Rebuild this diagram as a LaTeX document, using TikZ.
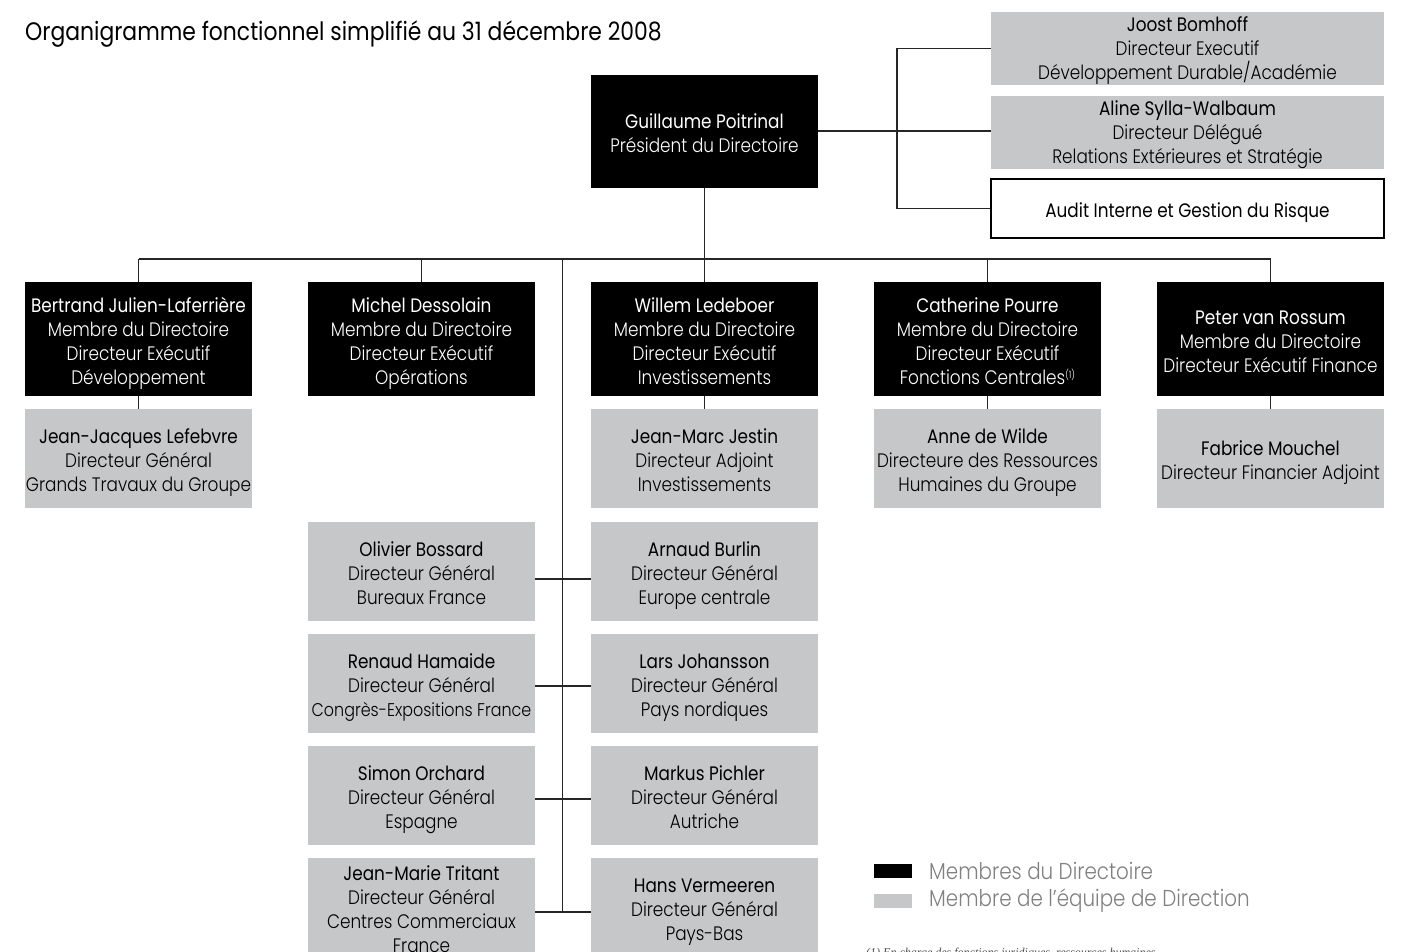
\documentclass[tikz,border=0pt]{standalone}
\usepackage{fontspec}
\setmainfont{Poppins}
\newfontfamily\lt{Poppins Light}[FakeStretch=0.865]
\newfontfamily\md{Poppins}[FakeStretch=0.865]
\newfontfamily\fnf{Liberation Serif}
\definecolor{boxgray}{HTML}{C6C7C9}
\definecolor{leggray}{HTML}{808080}
\newcommand\nm[1]{{\md\rule{0pt}{25.5pt}#1}}
\newcommand\nmx[2]{{\md\rule{0pt}{#1}#2}}
\newcommand\dpt[1]{\rule[-#1]{0pt}{#1}}
\tikzset{
  base/.style={inner sep=0pt, align=center, minimum width=227pt, font=\lt\fontsize{19.5}{24}\selectfont},
  board/.style={base, fill=black, text=white, minimum height=114pt},
  team/.style={base, fill=boxgray, text=black, minimum height=99pt},
  wide/.style={base, minimum width=393pt},
  conn/.style={line width=1.2pt, draw=black!85},
}
\begin{document}
\begin{tikzpicture}[x=1pt,y=-1pt]
\useasboundingbox (0,0) rectangle (1401,951);
\clip (0,0) rectangle (1401,951);
% title
\node[anchor=base west, inner sep=0pt, font=\md\fontsize{25.3}{28}\selectfont] (title) at (25,40) {Organigramme fonctionnel simplifié au 31 décembre 2008};
% president
\node[board, minimum height=113pt] (pres) at (704.5,131) {\nm{Guillaume Poitrinal}\\Président du Directoire\strut};
% top right
\node[wide, fill=boxgray, minimum height=73pt] (jb) at (1187.5,48.5) {\nmx{20pt}{Joost Bomhoff}\\Directeur Executif\\Développement Durable/Académie};
\node[wide, fill=boxgray, minimum height=73pt] (asw) at (1187.5,132.5) {\nmx{20pt}{Aline Sylla-Walbaum}\\Directeur Délégué\\Relations Extérieures et Stratégie};
\node[wide, draw=black, line width=1.2pt, minimum height=59pt] (audit) at (1187.5,208.5) {\nm{Audit Interne et Gestion du Risque}\strut};
% row 2
\node[board] (bjl) at (138.5,339) {\nm{Bertrand Julien-Laferrière}\\Membre du Directoire\\Directeur Exécutif\\Développement\strut};
\node[board] (mds) at (421.5,339) {\nm{Michel Dessolain}\\Membre du Directoire\\Directeur Exécutif\\Opérations\strut};
\node[board] (wl) at (704.5,339) {\nm{Willem Ledeboer}\\Membre du Directoire\\Directeur Exécutif\\Investissements\strut};
\node[board] (cp) at (987.5,339) {\nm{Catherine Pourre}\\Membre du Directoire\\Directeur Exécutif\\Fonctions Centrales\raisebox{6pt}{\fontsize{10}{10}\selectfont(1)}\strut};
\node[board] (pvr) at (1270.5,339) {\nm{Peter van Rossum}\\Membre du Directoire\\Directeur Exécutif Finance\strut};
% row 3
\node[team] (jjl) at (138.5,458.5) {\nm{Jean-Jacques Lefebvre}\\Directeur Général\\Grands Travaux du Groupe\strut};
\node[team] (jmj) at (704.5,458.5) {\nm{Jean-Marc Jestin}\\Directeur Adjoint\\Investissements\strut};
\node[team] (adw) at (987.5,458.5) {\nm{Anne de Wilde}\\Directeure des Ressources\\Humaines du Groupe\strut};
\node[team] (fm) at (1270.5,458.5) {\nm{Fabrice Mouchel}\\Directeur Financier Adjoint\strut};
% lower rows
\node[team] (ob) at (421.5,571) {\nm{Olivier Bossard}\\Directeur Général\\Bureaux France\strut};
\node[team] (ab) at (704.5,571) {\nm{Arnaud Burlin}\\Directeur Général\\Europe centrale\strut};
\node[team] (rh) at (421.5,683.5) {\nm{Renaud Hamaide}\\Directeur Général\\{\fontsize{18.4}{24}\selectfont Congrès-Expositions France}\strut};
\node[team] (lj) at (704.5,683.5) {\nm{Lars Johansson}\\Directeur Général\\Pays nordiques\strut};
\node[team] (so) at (421.5,795.5) {\nm{Simon Orchard}\\Directeur Général\\Espagne\strut};
\node[team] (mp) at (704.5,795.5) {\nm{Markus Pichler}\\Directeur Général\\Autriche\strut};
\node[team] (jmt) at (421.5,907.5) {\nmx{22.6pt}{Jean-Marie Tritant}\\Directeur Général\\Centres Commerciaux\\France\dpt{4.3pt}};
\node[team] (hv) at (704.5,907.5) {\nm{Hans Vermeeren}\\Directeur Général\\Pays-Bas\strut};
% connectors
\coordinate (bx) at (897,0);
\coordinate (bus) at (0,259);
\coordinate (vx) at (562.5,259);
\draw[conn] (pres.east) -- (pres.east -| asw.west);
\draw[conn] (jb.west) -- (jb.west -| bx) -- (audit.west -| bx) -- (audit.west);
\draw[conn] (pres.south) -- (wl.north);
\draw[conn] (bjl.north |- bus) -- (pvr.north |- bus);
\foreach \n in {bjl,mds,cp,pvr} \draw[conn] (\n.north |- bus) -- (\n.north);
\draw[conn] (bjl.south) -- (jjl.north);
\draw[conn] (wl.south) -- (jmj.north);
\draw[conn] (cp.south) -- (adw.north);
\draw[conn] (pvr.south) -- (fm.north);
\coordinate (h1) at (0,579);
\coordinate (h2) at (0,686);
\coordinate (h3) at (0,799);
\coordinate (h4) at (0,912);
\draw[conn] (vx) -- (vx |- h4);
\draw[conn] (ob.east |- h1) -- (ab.west |- h1);
\draw[conn] (rh.east |- h2) -- (lj.west |- h2);
\draw[conn] (so.east |- h3) -- (mp.west |- h3);
\draw[conn] (jmt.east |- h4) -- (hv.west |- h4);
% legend
\node[fill=black, minimum width=38pt, minimum height=14pt, inner sep=0pt] (lgb) at (893,871) {};
\node[fill=boxgray, minimum width=38pt, minimum height=14pt, inner sep=0pt] (lgg) at (893,901) {};
\node[anchor=west, inner sep=0pt, text=leggray, font=\lt\fontsize{23}{26}\selectfont] (lgbt) at (929,871) {Membres du Directoire};
\node[anchor=west, inner sep=0pt, text=leggray, font=\lt\fontsize{23}{26}\selectfont] (lggt) at (929,901) {Membre de l’équipe de Direction};
% footnote
\node[anchor=base west, inner sep=0pt, text=black!70, font=\fnf\itshape\fontsize{12}{14}\selectfont] (fn) at (866,956) {(1) En charge des fonctions juridiques, ressources humaines};
\end{tikzpicture}
\end{document}
